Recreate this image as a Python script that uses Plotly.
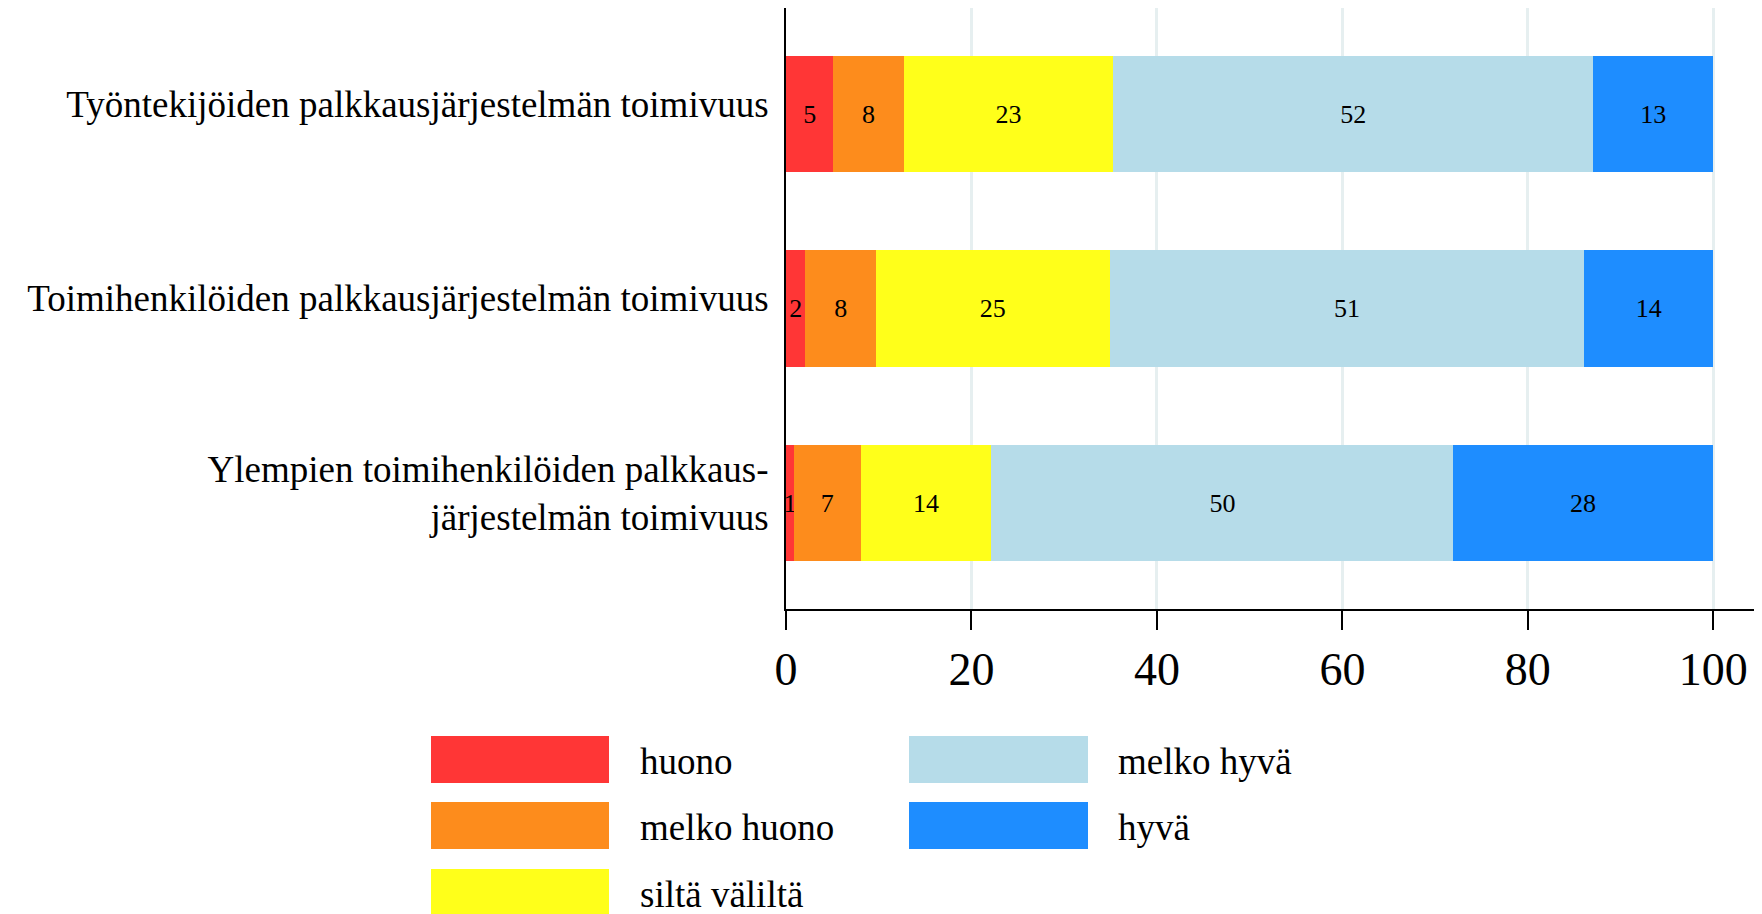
import plotly.graph_objects as go

# Survey rows (bottom to top as plotted) and answer categories
rows = ['Ylempien toimihenkilöiden palkkaus-<br>järjestelmän toimivuus',
        'Toimihenkilöiden palkkausjärjestelmän toimivuus',
        'Työntekijöiden palkkausjärjestelmän toimivuus']
series_names = ['huono', 'melko huono', 'siltä väliltä', 'melko hyvä', 'hyvä']
series_colors = ['#ff3636', '#fd8c1c', '#ffff1a', '#b6dce9', '#1e8dff']

# Shares in percent, same order as rows
huono = [0.86, 2.1, 5.1]
melko_huono = [7.2, 7.6, 7.6]
silta_valilta = [14.1, 25.2, 22.6]
melko_hyva = [49.8, 51.2, 51.75]
hyva = [28.0, 13.9, 12.95]
values = [huono, melko_huono, silta_valilta, melko_hyva, hyva]

x_ticks = [0, 20, 40, 60, 80, 100]

FONT = 'Liberation Serif'
# page body has an 8px margin, so the figure is a bit smaller than the window
W, H = 1754, 906
L, R, T, B = 778, 0, 0, 305

fig = go.Figure()
for name, vals, col in zip(series_names, values, series_colors):
    fig.add_trace(go.Bar(
        y=rows, x=vals, name=name, orientation='h',
        marker=dict(color=col, line=dict(width=0)),
        text=[f'{v:.0f}' for v in vals],
        textposition='inside', insidetextanchor='middle', textangle=0,
        textfont=dict(family=FONT, size=26, color='black'),
        showlegend=False))

# Legend drawn by hand so the colour boxes can be as large as in the original
# (positions below are in figure pixels)
def px_x(p):
    return (p - L) / (W - L - R)

def px_y(p):
    return (H - B - p) / (H - T - B)

legend_cols = [(423, 601, 630), (901, 1080, 1108)]
legend_rows = [728, 794, 861]
shapes = []
annotations = []
for i, (name, col) in enumerate(zip(series_names, series_colors)):
    cx0, cx1, tx = legend_cols[i // 3]
    ry = legend_rows[i % 3]
    shapes.append(dict(type='rect', xref='paper', yref='paper',
                       x0=px_x(cx0), x1=px_x(cx1), y0=px_y(ry), y1=px_y(ry + 47),
                       fillcolor=col, line=dict(width=0)))
    annotations.append(dict(text=name, xref='paper', yref='paper',
                            x=px_x(tx), y=px_y(ry + 25), xanchor='left', yanchor='middle',
                            showarrow=False, font=dict(family=FONT, size=37, color='black')))

fig.update_layout(
    barmode='stack', bargap=0.4,
    width=W, height=H,
    margin=dict(l=L, r=R, t=T, b=B, pad=0),
    paper_bgcolor='white', plot_bgcolor='white',
    font=dict(family=FONT, color='black'),
    uniformtext=dict(minsize=26, mode='show'),
    shapes=shapes, annotations=annotations,
    xaxis=dict(range=[0, 105.25], tickvals=x_ticks, showgrid=True,
               gridcolor='#e6eff0', gridwidth=3, zeroline=False,
               showline=True, linecolor='black', linewidth=2,
               ticks='outside', ticklen=19, tickwidth=2, tickcolor='black',
               tickfont=dict(family=FONT, size=46, color='black')),
    yaxis=dict(range=[-0.545, 2.545], showgrid=False, zeroline=False,
               showline=True, linecolor='black', linewidth=2, ticks='',
               ticklabelshift=-10, ticklabelstandoff=8,
               tickfont=dict(family=FONT, size=37, color='black')),
)

fig.write_html("out.html")
